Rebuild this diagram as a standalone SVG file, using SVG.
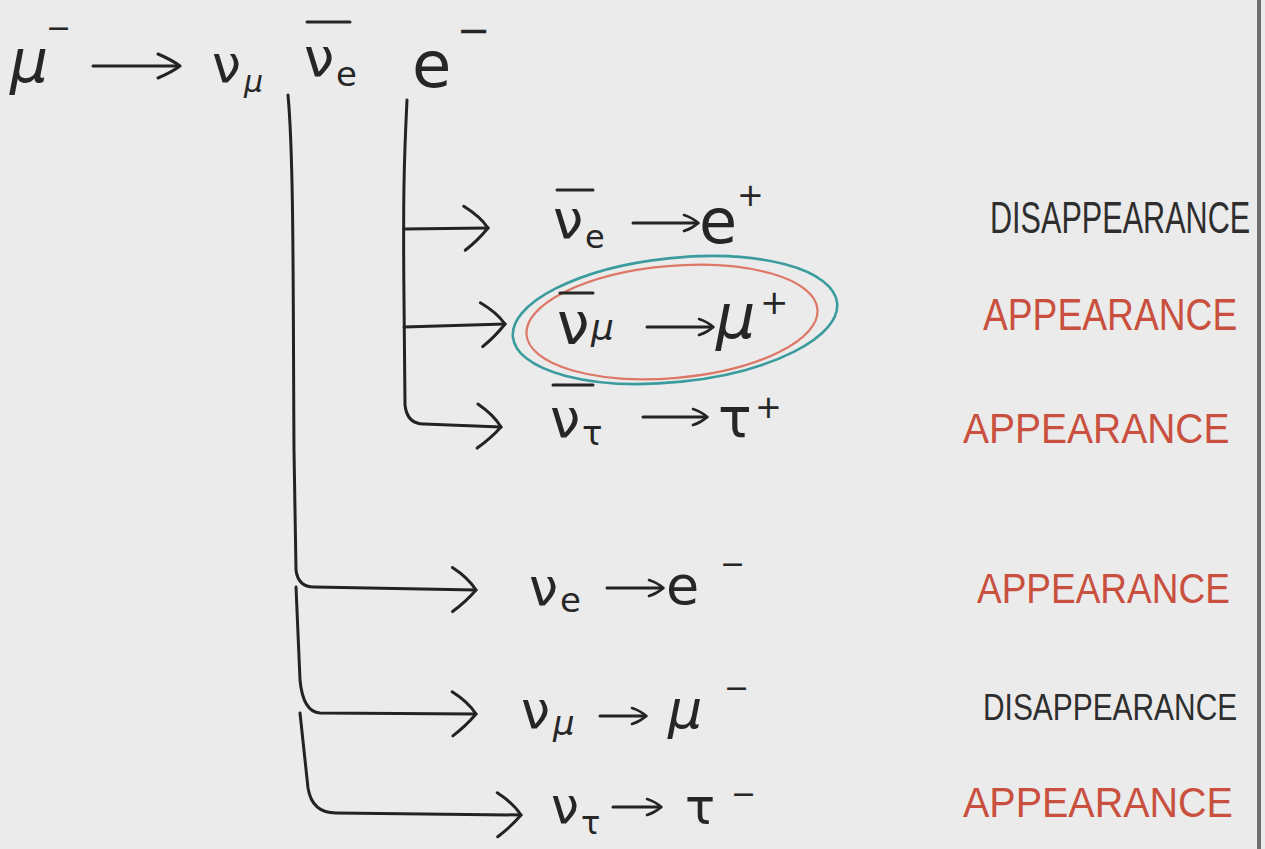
<svg xmlns="http://www.w3.org/2000/svg" width="1265" height="849" viewBox="0 0 1265 849">
<defs>
<style>
.ink{fill:none;stroke:#232323;stroke-width:3;stroke-linecap:round;stroke-linejoin:round}
.sym{font-family:"DejaVu Sans",sans-serif;fill:#262626}
.bar{stroke:#262626;stroke-width:3;stroke-linecap:round}
.lbl{font-family:"Liberation Sans",Arial,sans-serif}
.red{fill:#c9503e}
.blk{fill:#2e2e2e}
</style>
<marker id="big" markerUnits="userSpaceOnUse" markerWidth="30" markerHeight="48" refX="26" refY="22" orient="auto" overflow="visible">
<path d="M2,0 Q18,10 26,22 Q16,34 3,44" fill="none" stroke="#232323" stroke-width="3" stroke-linecap="round"/>
</marker>
<marker id="small" markerUnits="userSpaceOnUse" markerWidth="20" markerHeight="22" refX="15" refY="9" orient="auto" overflow="visible">
<path d="M1,1 Q10,4 15,9 Q10,14 1,17" fill="none" stroke="#232323" stroke-width="2.6" stroke-linecap="round"/>
</marker>
</defs>
<rect width="1265" height="849" fill="#ebebeb"/>
<rect x="1257" y="0" width="4" height="849" fill="#6e6e6e"/>

<g id="decay">
<text class="sym" x="10" y="82" font-size="60" font-style="italic">μ</text>
<text class="sym" x="46" y="38" font-size="30">−</text>
<path class="ink" d="M93,66 L178,66"/>
<path class="ink" d="M158,54 Q172,60 180,66 Q172,72 158,78"/>
<text class="sym" x="212" y="82" font-size="52">ν</text>
<text class="sym" x="244" y="92" font-size="30" font-style="italic">μ</text>
<line class="bar" x1="307" y1="22" x2="350" y2="22"/>
<text class="sym" x="304" y="76" font-size="54">ν</text>
<text class="sym" x="336" y="86" font-size="34">e</text>
<text class="sym" x="412" y="87" font-size="64">e</text>
<text class="sym" x="457" y="44" font-size="40">−</text>
</g>

<g id="connectors">
<path class="ink" d="M288,95 C294,160 293,300 294,450 L296,570 Q298,587 314,587 L476,590" marker-end="url(#big)"/>
<path class="ink" d="M296,587 L300,680 Q303,712 320,713 L476,714" marker-end="url(#big)"/>
<path class="ink" d="M300,713 L308,788 Q312,813 336,813 L521,815" marker-end="url(#big)"/>
<path class="ink" d="M407,100 C404,160 403,200 404,300 L405,405 Q407,424 424,424 L501,427" marker-end="url(#big)"/>
<path class="ink" d="M404,229 L488,228" marker-end="url(#big)"/>
<path class="ink" d="M404,327 L505,324" marker-end="url(#big)"/>
</g>

<g id="r-anti-e">
<line class="bar" x1="557" y1="190" x2="593" y2="190"/>
<text class="sym" x="553" y="238" font-size="54">ν</text>
<text class="sym" x="585" y="248" font-size="32">e</text>
<path class="ink" d="M633,223 L698,223" marker-end="url(#small)"/>
<text class="sym" x="699" y="243" font-size="62">e</text>
<text class="sym" x="737" y="206" font-size="32">+</text>
<text class="lbl blk" font-size="30.6" transform="translate(990,233) scale(1,1.45)">DISAPPEARANCE</text>
</g>

<g id="r-anti-mu">
<ellipse cx="675" cy="320" rx="163" ry="62" transform="rotate(-6 675 320)" fill="none" stroke="#3a9c9e" stroke-width="2.6"/>
<ellipse cx="672" cy="322" rx="146" ry="56" transform="rotate(-5 672 322)" fill="none" stroke="#dd7766" stroke-width="2.2"/>
<line class="bar" x1="560" y1="293" x2="593" y2="293"/>
<text class="sym" x="557" y="344" font-size="58">ν</text>
<text class="sym" x="591" y="340" font-size="36" font-style="italic">μ</text>
<path class="ink" d="M647,327 L713,327" marker-end="url(#small)"/>
<text class="sym" x="716" y="338" font-size="62" font-style="italic">μ</text>
<text class="sym" x="760" y="314" font-size="34">+</text>
<text class="lbl red" font-size="37.2" transform="translate(983,330) scale(1,1.2)">APPEARANCE</text>
</g>

<g id="r-anti-tau">
<line class="bar" x1="553" y1="385" x2="593" y2="385"/>
<text class="sym" x="550" y="437" font-size="54">ν</text>
<text class="sym" x="582" y="445" font-size="34">τ</text>
<path class="ink" d="M643,417 L707,417" marker-end="url(#small)"/>
<text class="sym" x="718" y="437" font-size="56">τ</text>
<text class="sym" x="755" y="418" font-size="32">+</text>
<text class="lbl red" font-size="39" transform="translate(963,443) scale(1,1.07)">APPEARANCE</text>
</g>

<g id="r-e">
<text class="sym" x="529" y="605" font-size="52">ν</text>
<text class="sym" x="560" y="612" font-size="34">e</text>
<path class="ink" d="M607,588 L663,588" marker-end="url(#small)"/>
<text class="sym" x="666" y="604" font-size="54">e</text>
<text class="sym" x="720" y="574" font-size="30">−</text>
<text class="lbl red" font-size="37" transform="translate(977,603) scale(1,1.13)">APPEARANCE</text>
</g>

<g id="r-mu">
<text class="sym" x="521" y="728" font-size="52">ν</text>
<text class="sym" x="553" y="735" font-size="34" font-style="italic">μ</text>
<path class="ink" d="M600,716 L646,716" marker-end="url(#small)"/>
<text class="sym" x="668" y="728" font-size="54" font-style="italic">μ</text>
<text class="sym" x="724" y="698" font-size="30">−</text>
<text class="lbl blk" font-size="29.9" transform="translate(983,720) scale(1,1.26)">DISAPPEARANCE</text>
</g>

<g id="r-tau">
<text class="sym" x="551" y="823" font-size="50">ν</text>
<text class="sym" x="581" y="834" font-size="32">τ</text>
<path class="ink" d="M613,807 L661,807" marker-end="url(#small)"/>
<text class="sym" x="685" y="824" font-size="50">τ</text>
<text class="sym" x="731" y="804" font-size="30">−</text>
<text class="lbl red" font-size="39.5" transform="translate(963,817) scale(1,1.06)">APPEARANCE</text>
</g>
</svg>
